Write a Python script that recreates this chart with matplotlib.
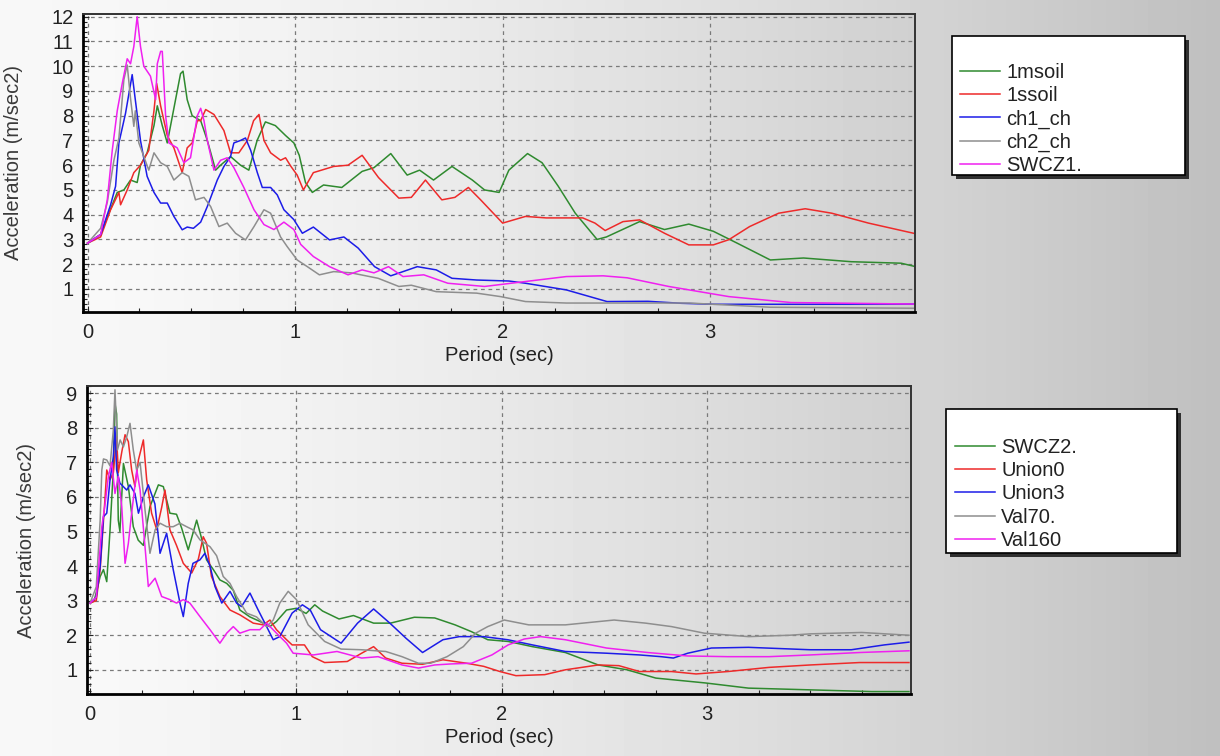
import matplotlib
matplotlib.use("Agg")
import matplotlib.pyplot as plt
import numpy as np
from matplotlib.patches import Rectangle
from matplotlib.ticker import MultipleLocator

plt.rcParams['font.family'] = ['Liberation Sans', 'DejaVu Sans']

# Datos del grafico superior (periodo en s, aceleracion en m/s2)
t_1msoil = [0, 0.063, 0.095, 0.143, 0.175, 0.207, 0.239, 0.255, 0.287, 0.32, 0.336, 0.36, 0.384, 0.40, 0.424,
            0.448, 0.46, 0.48, 0.504, 0.545, 0.577, 0.617, 0.641, 0.689, 0.737, 0.777, 0.817, 0.857, 0.905, 0.954,
            0.994, 1.02, 1.05, 1.083, 1.137, 1.225, 1.323, 1.38, 1.461, 1.54, 1.6, 1.667, 1.756, 1.854, 1.913,
            1.983, 2.03, 2.12, 2.19, 2.268, 2.35, 2.455, 2.50, 2.66, 2.78, 2.897, 3.015, 3.13, 3.29, 3.45, 3.68,
            3.92, 3.99]
a_1msoil = [2.85, 3.2, 3.9, 4.9, 5.0, 5.4, 5.3, 6.0, 6.5, 7.6, 8.4, 7.6, 6.9, 7.6, 8.65,
            9.7, 9.8, 8.65, 8.0, 7.8, 7.0, 5.8, 6.0, 6.35, 6.0, 5.8, 7.0, 7.75, 7.6, 7.2,
            6.9, 6.4, 5.3, 4.9, 5.2, 5.1, 5.75, 5.9, 6.47, 5.6, 5.8, 5.4, 5.95, 5.4, 5.0,
            4.9, 5.8, 6.47, 6.1, 5.15, 4.06, 3.0, 3.1, 3.72, 3.4, 3.62, 3.33, 2.85, 2.17, 2.25, 2.1,
            2.04, 1.9]

t_1ssoil = [0, 0.063, 0.111, 0.151, 0.159, 0.191, 0.223, 0.255, 0.295, 0.32, 0.333, 0.352, 0.384, 0.416, 0.456,
            0.48, 0.504, 0.529, 0.545, 0.569, 0.609, 0.657, 0.689, 0.729, 0.77, 0.80, 0.826, 0.85, 0.882, 0.93,
            0.954, 0.98, 1.01, 1.04, 1.088, 1.186, 1.255, 1.323, 1.402, 1.50, 1.56, 1.628, 1.707, 1.77, 1.835,
            1.894, 2.0, 2.11, 2.21, 2.386, 2.445, 2.494, 2.58, 2.66, 2.78, 2.897, 3.015, 3.09, 3.19, 3.33,
            3.458, 3.586, 3.763, 3.98]
a_1ssoil = [2.85, 3.1, 4.2, 4.9, 4.4, 5.0, 5.7, 6.0, 6.6, 8.2, 9.3, 8.4, 7.2, 6.7, 5.7,
            6.7, 6.9, 7.8, 7.8, 8.25, 8.05, 7.4, 6.5, 6.5, 7.0, 7.8, 8.05, 7.0, 6.5, 6.2,
            6.3, 5.95, 5.6, 5.0, 5.7, 5.95, 6.0, 6.4, 5.5, 4.67, 4.7, 5.4, 4.6, 4.7, 5.1,
            4.6, 3.66, 3.93, 3.87, 3.87, 3.66, 3.36, 3.72, 3.79, 3.25, 2.78, 2.78, 2.99, 3.52, 4.06,
            4.24, 4.06, 3.66, 3.25]

t_ch1 = [0, 0.063, 0.111, 0.135, 0.151, 0.183, 0.215, 0.23, 0.255, 0.287, 0.32, 0.352, 0.384, 0.416, 0.456,
         0.48, 0.51, 0.545, 0.577, 0.625, 0.657, 0.689, 0.705, 0.737, 0.761, 0.786, 0.818, 0.842, 0.882, 0.914,
         0.946, 0.994, 1.035, 1.088, 1.166, 1.235, 1.304, 1.383, 1.461, 1.52, 1.589, 1.68, 1.756, 1.875, 2.03,
         2.11, 2.307, 2.503, 2.70, 2.86, 3.02, 3.49, 3.98]
a_ch1 = [2.85, 3.2, 4.4, 5.15, 6.9, 8.1, 9.66, 8.65, 7.0, 5.55, 4.9, 4.47, 4.47, 3.93, 3.39,
         3.5, 3.45, 3.7, 4.33, 5.4, 5.95, 6.35, 6.9, 7.0, 7.1, 6.6, 5.7, 5.1, 5.1, 4.8,
         4.2, 3.8, 3.25, 3.5, 2.98, 3.1, 2.65, 1.9, 1.53, 1.7, 1.9, 1.77, 1.43, 1.36, 1.32,
         1.23, 0.96, 0.49, 0.5, 0.42, 0.38, 0.38, 0.39]

t_ch2 = [0, 0.063, 0.095, 0.127, 0.151, 0.175, 0.191, 0.207, 0.223, 0.23, 0.247, 0.271, 0.295, 0.32, 0.352,
         0.384, 0.416, 0.456, 0.488, 0.52, 0.561, 0.593, 0.633, 0.673, 0.713, 0.761, 0.802, 0.85, 0.882, 0.93,
         0.962, 1.01, 1.059, 1.117, 1.186, 1.27, 1.40, 1.5, 1.56, 1.68, 1.875, 1.99, 2.11, 2.307, 2.50,
         2.90, 3.29, 3.98]
a_ch2 = [2.85, 3.45, 4.5, 6.2, 7.1, 9.46, 10.05, 8.7, 7.57, 8.2, 6.9, 6.35, 5.8, 6.5, 6.1,
         5.95, 5.4, 5.7, 5.55, 4.6, 4.7, 4.33, 3.52, 3.66, 3.25, 2.98, 3.52, 4.2, 4.06, 3.1,
         2.71, 2.17, 1.9, 1.57, 1.7, 1.65, 1.43, 1.1, 1.15, 0.89, 0.83, 0.69, 0.49, 0.43, 0.43,
         0.43, 0.26, 0.22]

t_swcz1 = [0, 0.063, 0.095, 0.119, 0.143, 0.167, 0.191, 0.207, 0.223, 0.239, 0.255, 0.271, 0.303, 0.328, 0.336,
           0.352, 0.36, 0.376, 0.392, 0.432, 0.464, 0.496, 0.529, 0.545, 0.561, 0.577, 0.609, 0.641, 0.673, 0.705,
           0.753, 0.802, 0.85, 0.898, 0.946, 0.994, 1.027, 1.088, 1.166, 1.255, 1.323, 1.38, 1.45, 1.52, 1.62,
           1.736, 1.913, 2.11, 2.307, 2.484, 2.60, 2.80, 3.09, 3.39, 3.98]
a_swcz1 = [2.85, 3.2, 4.6, 6.6, 8.2, 9.3, 10.3, 10.1, 10.8, 12.0, 10.8, 10.0, 9.6, 8.65, 10.1,
           10.6, 10.6, 8.0, 6.9, 6.7, 6.1, 6.3, 8.0, 8.3, 7.8, 7.0, 5.8, 6.2, 6.3, 5.9,
           5.1, 4.2, 3.6, 3.4, 3.7, 3.4, 2.8, 2.31, 1.9, 1.57, 1.77, 1.65, 1.9, 1.5, 1.57,
           1.23, 1.1, 1.3, 1.5, 1.53, 1.45, 1.1, 0.69, 0.45, 0.39]

# Datos del grafico inferior
t_swcz2 = [0, 0.02, 0.049, 0.065, 0.081, 0.097, 0.113, 0.121, 0.129, 0.137, 0.145, 0.162, 0.186, 0.21, 0.234,
           0.259, 0.291, 0.332, 0.356, 0.388, 0.42, 0.445, 0.477, 0.518, 0.542, 0.566, 0.599, 0.631, 0.664, 0.696,
           0.728, 0.777, 0.825, 0.874, 0.906, 0.955, 1.003, 1.05, 1.092, 1.13, 1.21, 1.28, 1.378, 1.46, 1.576,
           1.675, 1.774, 1.855, 1.933, 2.032, 2.15, 2.31, 2.47, 2.61, 2.75, 2.99, 3.2, 3.5, 3.8, 3.98]
a_swcz2 = [2.93, 3.0, 3.7, 3.9, 3.55, 5.05, 6.8, 8.7, 8.4, 5.33, 5.0, 6.97, 6.3, 5.14, 4.75,
           4.6, 5.72, 6.35, 6.3, 5.53, 5.5, 5.1, 4.47, 5.33, 4.8, 4.18, 3.9, 3.6, 3.5, 3.3,
           2.73, 2.53, 2.4, 2.25, 2.4, 2.73, 2.78, 2.63, 2.88, 2.7, 2.47, 2.57, 2.35, 2.35, 2.52,
           2.5, 2.3, 2.1, 1.87, 1.82, 1.67, 1.5, 1.14, 1.0, 0.76, 0.62, 0.47, 0.42, 0.37, 0.37]

t_union0 = [0, 0.03, 0.049, 0.073, 0.081, 0.097, 0.113, 0.129, 0.137, 0.154, 0.17, 0.186, 0.202, 0.218, 0.235,
            0.259, 0.275, 0.299, 0.324, 0.348, 0.364, 0.388, 0.42, 0.453, 0.494, 0.526, 0.55, 0.566, 0.59, 0.631,
            0.68, 0.728, 0.793, 0.842, 0.874, 0.906, 0.955, 0.982, 1.042, 1.08, 1.14, 1.25, 1.32, 1.378, 1.437,
            1.516, 1.616, 1.715, 1.83, 1.913, 1.992, 2.07, 2.21, 2.31, 2.47, 2.57, 2.67, 2.826, 2.945, 3.10,
            3.30, 3.50, 3.74, 3.98]
a_union0 = [2.93, 3.0, 3.9, 6.0, 6.78, 6.5, 6.7, 7.74, 6.7, 7.3, 7.8, 7.6, 6.78, 6.3, 7.07,
            7.65, 6.5, 5.53, 5.05, 5.7, 6.2, 5.05, 4.6, 4.08, 3.8, 4.2, 4.85, 4.66, 3.7, 3.12,
            2.73, 2.59, 2.35, 2.3, 2.44, 2.16, 1.87, 1.72, 1.72, 1.38, 1.21, 1.24, 1.48, 1.67, 1.34,
            1.19, 1.16, 1.29, 1.19, 1.1, 0.95, 0.83, 0.86, 1.0, 1.14, 1.12, 0.95, 0.95, 0.88, 0.95,
            1.07, 1.14, 1.21, 1.21]

t_union3 = [0, 0.03, 0.049, 0.065, 0.081, 0.097, 0.113, 0.121, 0.129, 0.145, 0.178, 0.194, 0.218, 0.235, 0.259,
            0.283, 0.315, 0.34, 0.372, 0.404, 0.437, 0.453, 0.477, 0.50, 0.534, 0.558, 0.583, 0.607, 0.64, 0.68,
            0.712, 0.736, 0.777, 0.817, 0.858, 0.89, 0.922, 0.982, 1.032, 1.07, 1.12, 1.22, 1.30, 1.378, 1.457,
            1.536, 1.616, 1.715, 1.795, 1.913, 2.03, 2.15, 2.31, 2.51, 2.67, 2.775, 2.835, 2.905, 3.02, 3.20,
            3.50, 3.70, 3.86, 3.98]
a_union3 = [2.93, 3.1, 4.0, 5.43, 5.53, 6.5, 7.16, 8.03, 6.78, 6.4, 6.2, 6.35, 6.1, 5.53, 6.0,
            6.35, 5.8, 4.37, 4.95, 3.9, 2.93, 2.54, 3.5, 4.08, 4.18, 4.37, 4.0, 3.41, 2.93, 3.27,
            2.93, 2.83, 3.22, 2.73, 2.25, 1.87, 1.96, 2.64, 2.88, 2.73, 2.16, 1.77, 2.35, 2.76, 2.35,
            1.91, 1.5, 1.87, 1.96, 1.96, 1.87, 1.72, 1.53, 1.48, 1.43, 1.38, 1.34, 1.48, 1.63, 1.65,
            1.58, 1.58, 1.72, 1.8]

t_val70 = [0, 0.03, 0.049, 0.057, 0.065, 0.081, 0.097, 0.113, 0.121, 0.133, 0.146, 0.162, 0.178, 0.194, 0.21,
           0.226, 0.243, 0.267, 0.291, 0.316, 0.34, 0.372, 0.404, 0.437, 0.469, 0.50, 0.534, 0.583, 0.615, 0.647,
           0.68, 0.712, 0.761, 0.809, 0.858, 0.89, 0.922, 0.963, 1.003, 1.06, 1.14, 1.22, 1.32, 1.437, 1.516,
           1.596, 1.655, 1.735, 1.814, 1.874, 1.933, 2.013, 2.132, 2.31, 2.547, 2.70, 2.826, 2.985, 3.2, 3.4,
           3.5, 3.75, 3.98]
a_val70 = [2.93, 3.4, 5.33, 6.78, 7.1, 7.07, 6.9, 7.94, 9.1, 7.36, 7.65, 7.45, 7.74, 8.13, 7.36,
           6.78, 7.0, 5.62, 4.37, 5.05, 5.24, 5.14, 5.14, 5.24, 5.14, 5.05, 4.76, 4.56, 4.3, 3.7,
           3.5, 3.12, 2.64, 2.53, 2.25, 2.44, 2.93, 3.27, 3.03, 2.3, 1.82, 1.6, 1.58, 1.53, 1.38,
           1.19, 1.19, 1.38, 1.67, 2.06, 2.25, 2.44, 2.3, 2.3, 2.44, 2.35, 2.25, 2.06, 1.96, 2.0,
           2.04, 2.08, 2.0]

t_val160 = [0, 0.03, 0.057, 0.073, 0.089, 0.105, 0.121, 0.137, 0.154, 0.17, 0.186, 0.202, 0.227, 0.243, 0.267,
            0.283, 0.316, 0.348, 0.388, 0.42, 0.453, 0.485, 0.534, 0.583, 0.631, 0.664, 0.696, 0.728, 0.777, 0.825,
            0.858, 0.906, 0.955, 0.987, 1.085, 1.2, 1.32, 1.40, 1.516, 1.596, 1.675, 1.755, 1.854, 1.953, 2.032,
            2.11, 2.19, 2.31, 2.51, 2.71, 2.905, 3.1, 3.3, 3.5, 3.74, 3.98]
a_val160 = [2.93, 3.1, 5.14, 5.8, 6.6, 7.0, 6.1, 6.6, 5.72, 4.08, 4.66, 5.53, 6.78, 6.2, 4.56,
            3.41, 3.65, 3.12, 3.03, 2.93, 3.03, 2.93, 2.54, 2.16, 1.77, 2.06, 2.25, 2.06, 2.16, 2.16,
            2.35, 2.06, 1.77, 1.48, 1.43, 1.53, 1.34, 1.38, 1.14, 1.05, 1.14, 1.17, 1.19, 1.43, 1.72,
            1.89, 1.96, 1.87, 1.63, 1.5, 1.4, 1.38, 1.38, 1.43, 1.5, 1.55]

nombres_sup = ['1msoil', '1ssoil', 'ch1_ch', 'ch2_ch', 'SWCZ1.']
nombres_inf = ['SWCZ2.', 'Union0', 'Union3', 'Val70.', 'Val160']
colores = ['#2f8a2f', '#ee2a2a', '#1c1ce8', '#8e8e8e', '#f020f0']

W, H = 1220, 756
fig = plt.figure(figsize=(W / 100, H / 100), dpi=100)

# Fondo degradado de la figura
fondo = fig.add_axes([0, 0, 1, 1], zorder=-1)
grad = np.linspace(0, 1, 256) ** 1.6
fondo.imshow((0.97 - 0.22 * grad)[None, :], aspect='auto', cmap='gray', vmin=0, vmax=1,
             extent=[0, 1, 0, 1])
fondo.axis('off')


def px(x0, y0, x1, y1):
    return [x0 / W, 1 - y1 / H, (x1 - x0) / W, (y1 - y0) / H]


def preparar(ax, xlim, ylim, ytop):
    # Degradado del area de trazado
    g = np.linspace(0, 1, 256) ** 1.3
    ax.imshow((0.975 - 0.16 * g)[None, :], aspect='auto', cmap='gray', vmin=0, vmax=1,
              extent=[xlim[0], xlim[1], ylim[0], ylim[1]], zorder=0)
    ax.set_xlim(*xlim)
    ax.set_ylim(*ylim)
    ax.set_xticks([0, 1, 2, 3])
    ax.set_yticks(range(1, ytop + 1))
    ax.xaxis.set_minor_locator(MultipleLocator(0.25))
    ax.yaxis.set_minor_locator(MultipleLocator(0.2))
    ax.grid(True, which='major', color='#7a7a7a', linestyle=(0, (3, 3)), linewidth=0.9)
    ax.set_axisbelow(True)
    ax.tick_params(which='both', direction='in', labelsize=14.5, colors='#222222')
    ax.tick_params(which='major', length=4, width=0.8)
    ax.tick_params(which='minor', length=3, width=0.8)
    ax.tick_params(axis='x', pad=8)
    ax.tick_params(axis='y', pad=7)
    for lado in ['left', 'bottom']:
        ax.spines[lado].set_linewidth(2.0)
        ax.spines[lado].set_color('black')
    for lado in ['top', 'right']:
        ax.spines[lado].set_linewidth(1.4)
        ax.spines[lado].set_color('#333333')
    ax.set_xlabel('Period (sec)', fontsize=14.5, color='#222222')
    ax.set_ylabel('Acceleration (m/sec2)', fontsize=14.5, color='#3a3a3a')


def leyenda(lineas, nombres, caja, x_linea, y_fila):
    x0, y0, x1, y1 = caja
    fig.patches.append(Rectangle((x0 / W + 4 / W, 1 - y1 / H - 4 / H), (x1 - x0) / W, (y1 - y0) / H,
                                 transform=fig.transFigure, facecolor='#303030', edgecolor='none', zorder=5))
    fig.patches.append(Rectangle((x0 / W, 1 - y1 / H), (x1 - x0) / W, (y1 - y0) / H,
                                 transform=fig.transFigure, facecolor='white', edgecolor='black',
                                 linewidth=1.2, zorder=6))
    leg = fig.legend(lineas, nombres, loc='upper left', bbox_to_anchor=(x_linea / W, 1 - y_fila / H),
                     frameon=False, borderpad=0, borderaxespad=0, handlelength=2.0, handletextpad=0.3,
                     labelspacing=0.21, fontsize=14.5)
    for txt in leg.get_texts():
        txt.set_color('#222222')
    leg.set_zorder(7)


# Grafico superior
ax1 = fig.add_axes(px(83, 14, 915, 311.7))
preparar(ax1, (-0.022, 3.987), (0.08, 12.11), 12)
series_sup = [(t_1msoil, a_1msoil), (t_1ssoil, a_1ssoil), (t_ch1, a_ch1), (t_ch2, a_ch2), (t_swcz1, a_swcz1)]
lineas_sup = []
for (t, a), c in zip(series_sup, colores):
    l, = ax1.plot(t, a, color=c, linewidth=1.1, zorder=2)
    lineas_sup.append(l)
ax1.xaxis.set_label_coords(0.5, -0.115)
ax1.yaxis.set_label_coords(-0.072, 0.5)

# Grafico inferior
ax2 = fig.add_axes(px(87, 386, 911, 694))
preparar(ax2, (-0.015, 3.99), (0.3, 9.21), 9)
series_inf = [(t_swcz2, a_swcz2), (t_union0, a_union0), (t_union3, a_union3), (t_val70, a_val70),
              (t_val160, a_val160)]
lineas_inf = []
for (t, a), c in zip(series_inf, colores):
    l, = ax2.plot(t, a, color=c, linewidth=1.1, zorder=2)
    lineas_inf.append(l)
ax2.xaxis.set_label_coords(0.5, -0.11)
ax2.yaxis.set_label_coords(-0.062, 0.5)

# Leyendas
leyenda(lineas_sup, nombres_sup, (952, 36, 1185, 175), 960, 63)
leyenda(lineas_inf, nombres_inf, (946, 409, 1177, 553), 955, 438)

fig.savefig('out.png', dpi=100)
